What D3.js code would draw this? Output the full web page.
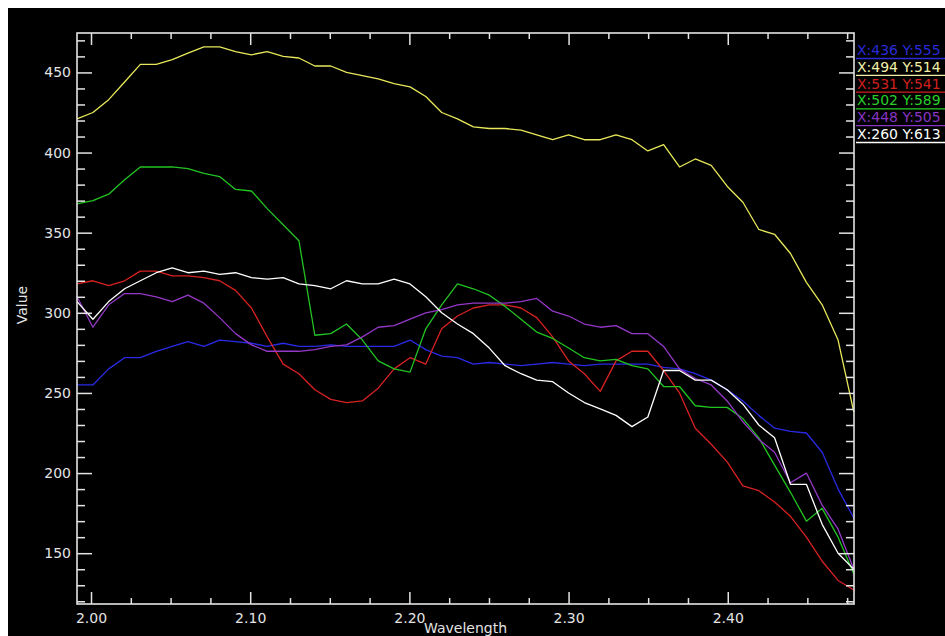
<!DOCTYPE html>
<html>
<head>
<meta charset="utf-8">
<script src="https://cdn.jsdelivr.net/npm/d3@7"></script>
<style>
  html, body { margin: 0; padding: 0; background: #ffffff; }
  svg { display: block; }
  text { font-family: "DejaVu Sans", sans-serif; }
</style>
</head>
<body>
<svg id="chart" width="945" height="636"></svg>
<script>
// Band centres (micrometres)
const wavelengths = [
  1.9912, 2.0012, 2.0111, 2.0211, 2.0310, 2.0410, 2.0510, 2.0609, 2.0709, 2.0808,
  2.0908, 2.1008, 2.1107, 2.1207, 2.1306, 2.1406, 2.1506, 2.1605, 2.1705, 2.1804,
  2.1904, 2.2004, 2.2103, 2.2203, 2.2302, 2.2402, 2.2502, 2.2601, 2.2701, 2.2800,
  2.2900, 2.3000, 2.3099, 2.3199, 2.3298, 2.3398, 2.3498, 2.3597, 2.3697, 2.3796,
  2.3896, 2.3996, 2.4095, 2.4195, 2.4294, 2.4394, 2.4494, 2.4593, 2.4693, 2.4792
];

// Pixel spectra
const blue = [
  255, 255, 265, 272, 272, 276, 279, 282, 279, 283,
  282, 281, 279, 281, 279, 279, 280, 279, 279, 279,
  279, 283, 277, 273, 272, 268, 269, 268, 267, 268,
  269, 268, 267, 268, 268, 268, 268, 266, 265, 262,
  258, 252, 245, 236, 228, 226, 225, 213, 190, 172
];
const yellow = [
  421, 425, 433, 444, 455, 455, 458, 462, 466, 466,
  463, 461, 463, 460, 459, 454, 454, 450, 448, 446,
  443, 441, 435, 425, 421, 416, 415, 415, 414, 411,
  408, 411, 408, 408, 411, 408, 401, 405, 391, 396,
  392, 379, 369, 352, 349, 337, 319, 305, 283, 238
];
const red = [
  318, 320, 317, 320, 326, 326, 323, 323, 322, 320,
  314, 303, 285, 268, 262, 252, 246, 244, 245, 253,
  265, 272, 268, 290, 298, 303, 305, 305, 303, 297,
  285, 270, 262, 251, 270, 276, 276, 264, 250, 228,
  218, 207, 192, 189, 182, 173, 160, 145, 133, 127
];
const green = [
  368, 370, 374, 383, 391, 391, 391, 390, 387, 385,
  377, 376, 365, 355, 345, 286, 287, 293, 283, 270,
  265, 263, 290, 305, 318, 315, 311, 304, 296, 288,
  284, 278, 272, 270, 271, 267, 265, 254, 254, 242,
  241, 241, 234, 222, 205, 188, 170, 178, 160, 137
];
const purple = [
  310, 291, 305, 312, 312, 310, 307, 311, 306, 297,
  287, 280, 276, 276, 276, 277, 279, 280, 285, 291,
  292, 296, 300, 302, 305, 306, 306, 306, 307, 309,
  301, 298, 293, 291, 292, 287, 287, 279, 265, 259,
  255, 245, 232, 221, 213, 194, 200, 180, 165, 140
];
const white = [
  307, 296, 307, 315, 320, 325, 328, 325, 326, 324,
  325, 322, 321, 322, 318, 317, 315, 320, 318, 318,
  321, 318, 310, 300, 293, 287, 278, 267, 262, 258,
  257, 250, 244, 240, 236, 229, 235, 264, 264, 258,
  258, 252, 243, 230, 222, 193, 193, 168, 150, 140
];

const seriesNames = ["X:436 Y:555", "X:494 Y:514", "X:531 Y:541", "X:502 Y:589", "X:448 Y:505", "X:260 Y:613"];
const seriesValues = [blue, yellow, red, green, purple, white];
const seriesColors = ["#2a2ae6", "#e8e85a", "#d82222", "#22c422", "#9438c8", "#ffffff"];
const legendColors = ["#2a2ad8", "#f2f0a8", "#d02020", "#28d028", "#8a34c4", "#ffffff"];

const xMajor = [2.00, 2.10, 2.20, 2.30, 2.40];
const xMinor = [2.025, 2.05, 2.075, 2.125, 2.15, 2.175, 2.225, 2.25, 2.275, 2.325, 2.35, 2.375, 2.425, 2.45, 2.475];
const yMajor = [150, 200, 250, 300, 350, 400, 450];
const yMinor = [120, 130, 140, 160, 170, 180, 190, 210, 220, 230, 240, 260, 270, 280, 290,
                310, 320, 330, 340, 360, 370, 380, 390, 410, 420, 430, 440, 460, 470];

const svg = d3.select("#chart");
const axisColor = "#e4e4e4";

// black window area
svg.append("rect").attr("x", 8).attr("y", 8).attr("width", 937).attr("height", 628).attr("fill", "#000");

const plot = { left: 77, right: 854, top: 33, bottom: 604 };
const x = d3.scaleLinear().domain([1.9912, 2.4793]).range([plot.left, plot.right]);
const y = d3.scaleLinear().domain([118.3, 474.6]).range([plot.bottom, plot.top]);

// spectra
const line = d3.line().x((d, i) => x(wavelengths[i])).y(d => y(d));
const lines = svg.append("g").attr("fill", "none").attr("stroke-width", 1.3).attr("stroke-linejoin", "round");
seriesValues.forEach((vals, k) => {
  lines.append("path").attr("d", line(vals)).attr("stroke", seriesColors[k]);
});

// axes with inward ticks
function styleAxis(g) {
  g.select(".domain").remove();
  g.selectAll(".tick line").attr("stroke", axisColor).attr("stroke-width", 1.5);
  g.selectAll(".tick text").attr("fill", axisColor).attr("font-size", 14)
    .attr("font-family", "'DejaVu Sans', sans-serif");
}
svg.append("g").attr("transform", `translate(0,${plot.bottom})`)
  .call(d3.axisBottom(x).tickValues(xMajor).tickSize(-12).tickPadding(9).tickFormat(d3.format(".2f")))
  .call(styleAxis);
svg.append("g").attr("transform", `translate(0,${plot.bottom})`)
  .call(d3.axisBottom(x).tickValues(xMinor).tickSize(-6).tickFormat(""))
  .call(styleAxis);
svg.append("g").attr("transform", `translate(0,${plot.top})`)
  .call(d3.axisTop(x).tickValues(xMajor).tickSize(-12).tickFormat(""))
  .call(styleAxis);
svg.append("g").attr("transform", `translate(0,${plot.top})`)
  .call(d3.axisTop(x).tickValues(xMinor).tickSize(-6).tickFormat(""))
  .call(styleAxis);
svg.append("g").attr("transform", `translate(${plot.left},0)`)
  .call(d3.axisLeft(y).tickValues(yMajor).tickSize(-15).tickPadding(6).tickFormat(d3.format("d")))
  .call(styleAxis);
svg.append("g").attr("transform", `translate(${plot.left},0)`)
  .call(d3.axisLeft(y).tickValues(yMinor).tickSize(-8).tickFormat(""))
  .call(styleAxis);
svg.append("g").attr("transform", `translate(${plot.right},0)`)
  .call(d3.axisRight(y).tickValues(yMajor).tickSize(-15).tickFormat(""))
  .call(styleAxis);
svg.append("g").attr("transform", `translate(${plot.right},0)`)
  .call(d3.axisRight(y).tickValues(yMinor).tickSize(-8).tickFormat(""))
  .call(styleAxis);

svg.append("rect")
  .attr("x", plot.left).attr("y", plot.top)
  .attr("width", plot.right - plot.left).attr("height", plot.bottom - plot.top)
  .attr("fill", "none").attr("stroke", axisColor).attr("stroke-width", 1.6);

// axis titles
svg.append("text").attr("x", (plot.left + plot.right) / 2).attr("y", 633)
  .attr("text-anchor", "middle").attr("fill", axisColor).attr("font-size", 14).text("Wavelength");
svg.append("text").attr("transform", "translate(27,305) rotate(-90)")
  .attr("text-anchor", "middle").attr("fill", axisColor).attr("font-size", 14).text("Value");

// legend
const legend = svg.append("g");
seriesNames.forEach((name, k) => {
  const cy = 50 + k * 16.8;
  legend.append("text").attr("x", 857).attr("y", cy + 5)
    .attr("fill", legendColors[k]).attr("font-size", 14).text(name);
  legend.append("line").attr("x1", 856).attr("x2", 945)
    .attr("y1", cy + 8.5).attr("y2", cy + 8.5)
    .attr("stroke", legendColors[k]).attr("stroke-width", 1.3);
});
</script>
</body>
</html>
